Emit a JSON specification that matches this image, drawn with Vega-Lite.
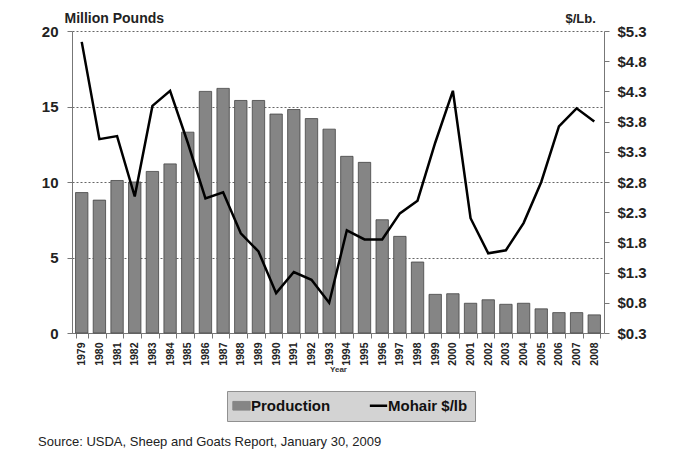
{
  "$schema": "https://vega.github.io/schema/vega-lite/v6.json",
  "width": 532,
  "height": 302,
  "autosize": {"type": "none"},
  "padding": {"left": 72, "top": 31, "right": 85, "bottom": 118},
  "background": "white",
  "title": {
    "text": "Source:  USDA, Sheep and Goats Report, January 30, 2009",
    "orient": "bottom",
    "anchor": "start",
    "frame": "group",
    "dx": -34,
    "offset": 14,
    "font": "Liberation Sans",
    "fontSize": 13,
    "fontWeight": "normal",
    "color": "#222"
  },
  "data": {
    "values": [
      {"year": "1979", "production": 9.3, "price": 5.12},
      {"year": "1980", "production": 8.8, "price": 3.51},
      {"year": "1981", "production": 10.1, "price": 3.56},
      {"year": "1982", "production": 10.0, "price": 2.56},
      {"year": "1983", "production": 10.7, "price": 4.06},
      {"year": "1984", "production": 11.2, "price": 4.31},
      {"year": "1985", "production": 13.3, "price": 3.45},
      {"year": "1986", "production": 16.0, "price": 2.53},
      {"year": "1987", "production": 16.2, "price": 2.63},
      {"year": "1988", "production": 15.4, "price": 1.95},
      {"year": "1989", "production": 15.4, "price": 1.65},
      {"year": "1990", "production": 14.5, "price": 0.96},
      {"year": "1991", "production": 14.8, "price": 1.31},
      {"year": "1992", "production": 14.2, "price": 1.18},
      {"year": "1993", "production": 13.5, "price": 0.8},
      {"year": "1994", "production": 11.7, "price": 2.0},
      {"year": "1995", "production": 11.3, "price": 1.85},
      {"year": "1996", "production": 7.5, "price": 1.85},
      {"year": "1997", "production": 6.4, "price": 2.28},
      {"year": "1998", "production": 4.7, "price": 2.49},
      {"year": "1999", "production": 2.56, "price": 3.45},
      {"year": "2000", "production": 2.6, "price": 4.31},
      {"year": "2001", "production": 1.97, "price": 2.2},
      {"year": "2002", "production": 2.2, "price": 1.62},
      {"year": "2003", "production": 1.9, "price": 1.67},
      {"year": "2004", "production": 1.97, "price": 2.12},
      {"year": "2005", "production": 1.6, "price": 2.8},
      {"year": "2006", "production": 1.35, "price": 3.72},
      {"year": "2007", "production": 1.35, "price": 4.02},
      {"year": "2008", "production": 1.2, "price": 3.8}
    ]
  },
  "encoding": {
    "x": {
      "field": "year",
      "type": "ordinal",
      "scale": {"paddingInner": 0.3, "paddingOuter": 0.2},
      "axis": {
        "title": "Year",
        "titleFont": "Liberation Sans",
        "titleFontSize": 8,
        "titleFontWeight": "bold",
        "titleColor": "#333",
        "titlePadding": 0,
        "labelAngle": -90,
        "labelFont": "Liberation Sans",
        "labelFontSize": 10.5,
        "labelFontWeight": "bold",
        "labelColor": "#222",
        "labelPadding": 4,
        "tickBand": "extent",
        "tickSize": 5,
        "tickColor": "#777",
        "domainColor": "#777",
        "grid": false
      }
    }
  },
  "layer": [
    {
      "mark": {"type": "bar", "stroke": "#444", "strokeWidth": 0.8},
      "encoding": {
        "y": {
          "field": "production",
          "type": "quantitative",
          "scale": {"domain": [0, 20], "nice": false},
          "axis": {
            "values": [0, 5, 10, 15, 20],
            "title": "Million Pounds",
            "titleAngle": 0,
            "titleAlign": "left",
            "titleBaseline": "alphabetic",
            "titleX": -8,
            "titleY": -9,
            "titleFont": "Liberation Sans",
            "titleFontSize": 14,
            "titleFontWeight": "bold",
            "titleColor": "#222",
            "labelFont": "Liberation Sans",
            "labelFontSize": 15,
            "labelFontWeight": "bold",
            "labelColor": "#222",
            "labelPadding": 9,
            "tickSize": 5,
            "tickColor": "#777",
            "domainColor": "#777",
            "grid": true,
            "gridDash": [2, 2],
            "gridColor": "#666",
            "gridWidth": 1
          }
        },
        "color": {
          "datum": "Production",
          "scale": {"domain": ["Production", "Mohair $/lb"], "range": ["#858585", "#000000"]},
          "legend": {
            "title": null,
            "orient": "none",
            "legendX": 155,
            "legendY": 360,
            "direction": "horizontal",
            "columns": 2,
            "fillColor": "#d3d3d3",
            "strokeColor": "#909090",
            "padding": 7,
            "columnPadding": 33,
            "labelFont": "Liberation Sans",
            "labelFontSize": 15,
            "labelFontWeight": "bold",
            "labelColor": "#111",
            "labelOffset": 2,
            "symbolSize": 300,
            "symbolType": {"expr": "datum.value === 'Production' ? 'M-1,-0.5H1V0.5H-1Z' : 'stroke'"},
            "symbolFillColor": {"expr": "datum.value === 'Production' ? '#858585' : 'transparent'"},
            "symbolStrokeColor": {"expr": "datum.value === 'Production' ? '#444' : '#000'"},
            "symbolStrokeWidth": {"expr": "datum.value === 'Production' ? 1 : 2.5"}
          }
        }
      }
    },
    {
      "mark": {"type": "line", "strokeWidth": 2.5},
      "encoding": {
        "y": {
          "field": "price",
          "type": "quantitative",
          "scale": {"domain": [0.3, 5.3], "nice": false, "zero": false},
          "axis": {
            "orient": "right",
            "values": [0.3, 0.8, 1.3, 1.8, 2.3, 2.8, 3.3, 3.8, 4.3, 4.8, 5.3],
            "format": "$.1f",
            "title": "$/Lb.",
            "titleAngle": 0,
            "titleAlign": "left",
            "titleBaseline": "alphabetic",
            "titleX": -39,
            "titleY": -9,
            "titleFont": "Liberation Sans",
            "titleFontSize": 13,
            "titleFontWeight": "bold",
            "titleColor": "#222",
            "labelFont": "Liberation Sans",
            "labelFontSize": 15,
            "labelFontWeight": "bold",
            "labelColor": "#222",
            "labelPadding": 8,
            "tickSize": 5,
            "tickColor": "#777",
            "domainColor": "#777",
            "grid": false
          }
        },
        "color": {"datum": "Mohair $/lb"}
      }
    }
  ],
  "resolve": {"scale": {"y": "independent"}},
  "config": {"view": {"stroke": null}}
}
